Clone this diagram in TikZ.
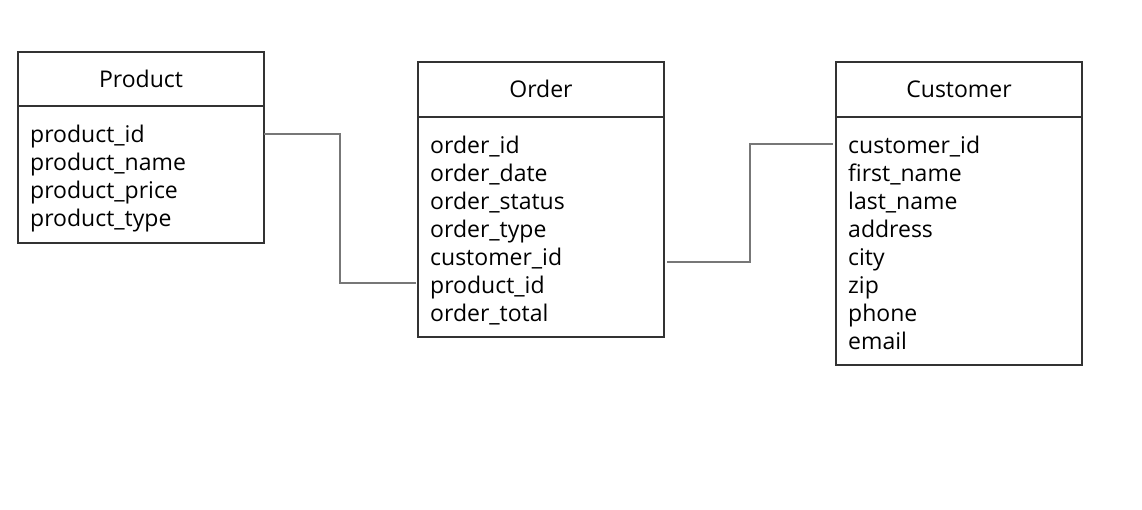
\documentclass[tikz,border=0pt]{standalone}
\usepackage{fontspec}
\setmainfont{Open Sans}
\usetikzlibrary{calc}
\definecolor{bordercol}{HTML}{333333}
\definecolor{conncol}{HTML}{777777}
\tikzset{
  entity/.style={draw=bordercol, line width=1.4pt, rectangle, anchor=north west, minimum width=246pt, inner sep=0pt, outer sep=0pt},
  divider/.style={draw=bordercol, line width=1.4pt},
  title/.style={anchor=base, inner sep=0pt, font=\fontsize{23}{28}\selectfont, text=black},
  attr/.style={anchor=base west, inner sep=0pt, font=\fontsize{23}{28}\selectfont, text=black},
  conn/.style={draw=conncol, line width=1.2pt},
}
\begin{document}
\begin{tikzpicture}[x=1pt,y=-1pt]
\useasboundingbox (0,0) rectangle (1142,509);
% Product
\node[entity, minimum height=191pt] (prod) at (18,52) {};
\draw[divider] (18,106) -- (264,106);
\node[title] (prodT) at (141,87) {Product};
\node[attr] (p1) at (30,142) {product\_id};
\node[attr] (p2) at (30,170) {product\_name};
\node[attr] (p3) at (30,198) {product\_price};
\node[attr] (p4) at (30,226) {product\_type};
% Order
\node[entity, minimum height=275pt] (ord) at (418,62) {};
\draw[divider] (418,117) -- (664,117);
\node[title] (ordT) at (541,97) {Order};
\node[attr] (o1) at (430,153) {order\_id};
\node[attr] (o2) at (430,181) {order\_date};
\node[attr] (o3) at (430,209) {order\_status};
\node[attr] (o4) at (430,237) {order\_type};
\node[attr] (o5) at (430,265) {customer\_id};
\node[attr] (o6) at (430,293) {product\_id};
\node[attr] (o7) at (430,321) {order\_total};
% Customer
\node[entity, minimum height=303pt] (cust) at (836,62) {};
\draw[divider] (836,117) -- (1082,117);
\node[title] (custT) at (959,97) {Customer};
\node[attr] (c1) at (848,153) {customer\_id};
\node[attr] (c2) at (848,181) {first\_name};
\node[attr] (c3) at (848,209) {last\_name};
\node[attr] (c4) at (848,237) {address};
\node[attr] (c5) at (848,265) {city};
\node[attr] (c6) at (848,293) {zip};
\node[attr] (c7) at (848,321) {phone};
\node[attr] (c8) at (848,349) {email};
% connectors
\draw[conn] (prod.east |- 0,134) -- (340,134) |- ([xshift=-2pt]ord.west |- 0,283);
\draw[conn] ([xshift=3pt]ord.east |- 0,262) -- (750,262) |- ([xshift=-3pt]cust.west |- 0,144);
\end{tikzpicture}
\end{document}
